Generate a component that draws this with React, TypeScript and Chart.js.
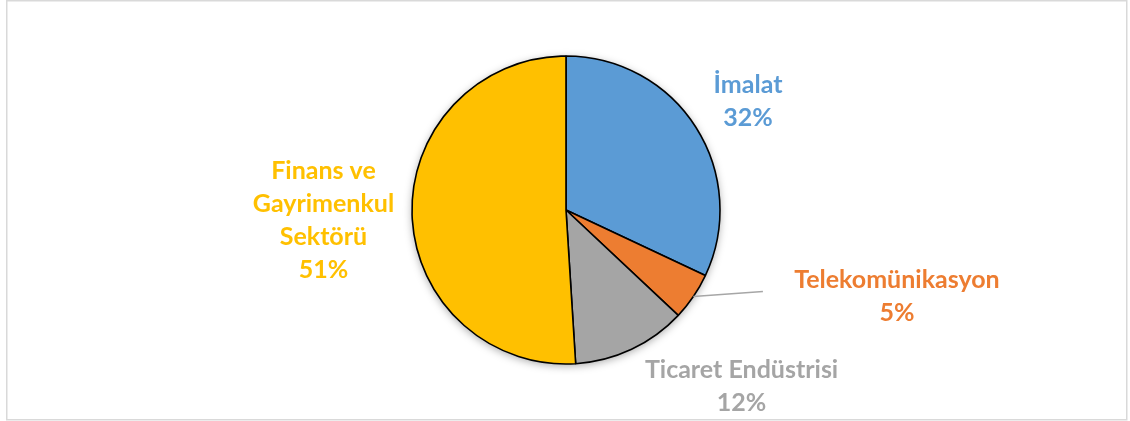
import React, { useEffect, useRef } from "react";
import { Chart, registerables } from "chart.js";

Chart.register(...registerables);

const categories = ["İmalat", "Telekomünikasyon", "Ticaret Endüstrisi", "Finans ve Gayrimenkul Sektörü"];
const labelLines = [["İmalat"], ["Telekomünikasyon"], ["Ticaret Endüstrisi"], ["Finans ve", "Gayrimenkul", "Sektörü"]];
const values = [32, 5, 12, 51];
const colors = ["#5B9BD5", "#ED7D31", "#A5A5A5", "#FFC000"];

// label block centres relative to the pie centre, in units of the radius
const labelOffsets = [
  [1.182, -0.705],
  [2.149, 0.562],
  [1.14, 1.146],
  [-1.575, 0.065],
];
const leaderIndex = 1;

const FONT_FAMILY = "Lato, 'Open Sans', sans-serif";
const FONT_SIZE = 25;
const LINE_HEIGHT = 33;

const framePlugin = {
  id: "frame",
  beforeDraw(chart: any) {
    const ctx = chart.ctx;
    ctx.save();
    ctx.fillStyle = "#ffffff";
    ctx.fillRect(0, 0, chart.width, chart.height);
    ctx.strokeStyle = "#d9d9d9";
    ctx.lineWidth = 1.5;
    ctx.strokeRect(6.75, 0.75, 1120, 419);
    ctx.restore();
  },
};

const shadowPlugin = {
  id: "pieShadow",
  beforeDatasetsDraw(chart: any) {
    const meta = chart.getDatasetMeta(0);
    const arc = meta.data[0];
    if (!arc) return;
    const ctx = chart.ctx;
    ctx.save();
    ctx.shadowColor = "rgba(0,0,0,0.35)";
    ctx.shadowBlur = 9;
    ctx.shadowOffsetY = 2;
    ctx.fillStyle = "#ffffff";
    ctx.beginPath();
    ctx.arc(arc.x, arc.y, arc.outerRadius, 0, Math.PI * 2);
    ctx.fill();
    ctx.restore();
  },
};

const labelPlugin = {
  id: "outLabels",
  afterDatasetsDraw(chart: any) {
    const meta = chart.getDatasetMeta(0);
    const ctx = chart.ctx;
    const total = values.reduce((a, b) => a + b, 0);
    meta.data.forEach((arc: any, i: number) => {
      const r = arc.outerRadius;
      const cx = arc.x + labelOffsets[i][0] * r;
      const cy = arc.y + labelOffsets[i][1] * r;
      const lines = [...labelLines[i], Math.round((values[i] / total) * 100) + "%"];
      ctx.save();
      if (i === leaderIndex) {
        const mid = (arc.startAngle + arc.endAngle) / 2;
        ctx.strokeStyle = "#a6a6a6";
        ctx.lineWidth = 1.5;
        ctx.beginPath();
        ctx.moveTo(arc.x + Math.cos(mid) * r, arc.y + Math.sin(mid) * r);
        ctx.lineTo(cx - 134, cy - 5);
        ctx.stroke();
      }
      ctx.font = `bold ${FONT_SIZE}px ${FONT_FAMILY}`;
      ctx.fillStyle = colors[i];
      ctx.textAlign = "center";
      ctx.textBaseline = "alphabetic";
      const firstBase = cy - ((lines.length - 1) / 2) * LINE_HEIGHT + 8;
      lines.forEach((t, k) => ctx.fillText(t, cx, firstBase + k * LINE_HEIGHT));
      ctx.restore();
    });
  },
};

export default function App() {
  const ref = useRef<HTMLCanvasElement>(null);
  useEffect(() => {
    if (!ref.current) return;
    const chart = new Chart(ref.current, {
      type: "pie",
      data: {
        labels: categories,
        datasets: [
          {
            data: values,
            backgroundColor: colors,
            borderColor: "#000000",
            borderWidth: 1.6,
          },
        ],
      },
      options: {
        responsive: false,
        animation: false,
        radius: 154,
        layout: { padding: { left: 2, right: 0, top: 0, bottom: 1 } },
        plugins: {
          legend: { display: false },
          tooltip: { enabled: false },
        },
      } as any,
      plugins: [framePlugin, shadowPlugin, labelPlugin],
    });
    return () => chart.destroy();
  }, []);
  return (
    <div style={{ position: "fixed", left: 0, top: 0, width: 1130, height: 421 }}>
      <canvas ref={ref} width={1130} height={421} style={{ width: 1130, height: 421 }} />
    </div>
  );
}
